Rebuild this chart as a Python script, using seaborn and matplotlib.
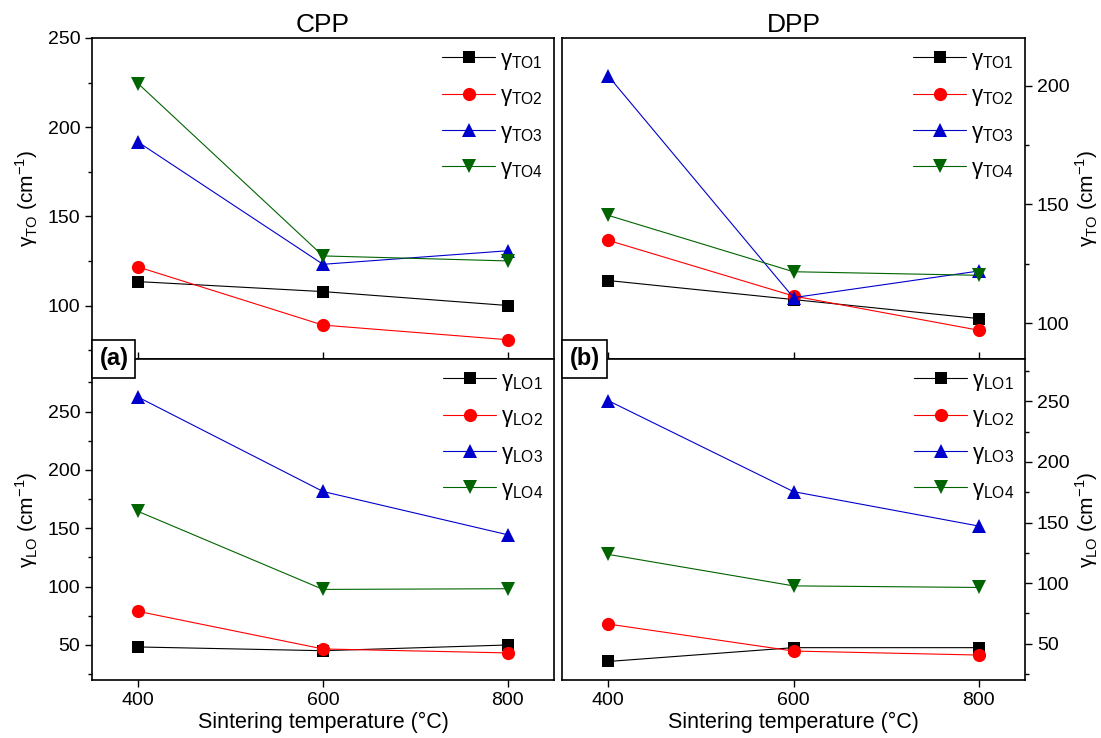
import numpy as np
import pandas as pd
import seaborn as sns
import matplotlib.pyplot as plt

# Data
temps = [400, 600, 800]

cpp_to1 = [113.4, 107.8, 100.0]
cpp_to2 = [121.6, 89.0, 80.8]
cpp_to3 = [191.6, 123.1, 130.7]
cpp_to4 = [224.4, 127.8, 125.0]

dpp_to1 = [118.0, 110.0, 102.0]
dpp_to2 = [134.9, 111.5, 97.1]
dpp_to3 = [204.0, 110.8, 122.0]
dpp_to4 = [145.4, 121.7, 120.2]

cpp_lo1 = [48.3, 45.1, 50.0]
cpp_lo2 = [78.8, 46.6, 43.2]
cpp_lo3 = [262.3, 181.5, 144.4]
cpp_lo4 = [164.4, 97.6, 98.2]

dpp_lo1 = [35.3, 46.7, 46.7]
dpp_lo2 = [66.2, 43.9, 40.6]
dpp_lo3 = [250.6, 175.5, 147.1]
dpp_lo4 = [123.7, 97.7, 96.4]

sns.set_style("ticks", {"axes.edgecolor": "black", "text.color": "black",
                        "xtick.color": "black", "ytick.color": "black",
                        "axes.labelcolor": "black"})
plt.rcParams['font.family'] = ['Liberation Sans', 'DejaVu Sans']
plt.rcParams['mathtext.fontset'] = 'custom'
plt.rcParams['mathtext.rm'] = 'Liberation Sans'

colors = ['black', '#FF0000', '#0000CC', '#006400']
markers = ['s', 'o', '^', 'v']
msizes = [9, 9.5, 10.5, 10.5]

fig = plt.figure(figsize=(11.01, 7.38), dpi=100)
W, H = 1101, 738


def box(x0, x1, y0, y1):
    return [x0 / W, 1 - y1 / H, (x1 - x0) / W, (y1 - y0) / H]


ax_tl = fig.add_axes(box(92, 554, 38, 359))
ax_tr = fig.add_axes(box(562, 1025, 38, 359))
ax_bl = fig.add_axes(box(92, 554, 359, 680))
ax_br = fig.add_axes(box(562, 1025, 359, 680))

panels = [
    (ax_tl, [cpp_to1, cpp_to2, cpp_to3, cpp_to4], 'TO', (70, 250), [100, 150, 200, 250], 'left'),
    (ax_tr, [dpp_to1, dpp_to2, dpp_to3, dpp_to4], 'TO', (85, 220), [100, 150, 200], 'right'),
    (ax_bl, [cpp_lo1, cpp_lo2, cpp_lo3, cpp_lo4], 'LO', (20, 295), [50, 100, 150, 200, 250], 'left'),
    (ax_br, [dpp_lo1, dpp_lo2, dpp_lo3, dpp_lo4], 'LO', (20, 285), [50, 100, 150, 200, 250], 'right'),
]

for ax, series, mode, ylim, yticks, side in panels:
    for i, vals in enumerate(series):
        sns.lineplot(x=temps, y=vals, ax=ax, color=colors[i], marker=markers[i],
                     markersize=msizes[i], markeredgewidth=0, linewidth=0.8,
                     label='γ$_{\\mathregular{' + mode + str(i + 1) + '}}$')
    ax.set_yticks(yticks)
    minor = [t for t in np.arange(yticks[0] - 25, ylim[1], 25) if t >= ylim[0]]
    ax.set_yticks(minor, minor=True)
    ax.set_xticks(temps)
    ax.set_xlim(350, 850)
    ax.set_ylim(*ylim)
    ax.tick_params(axis='both', which='major', labelsize=14, length=5, width=1, direction='out')
    ax.tick_params(axis='y', which='minor', length=3, width=1, direction='out')
    for s in ax.spines.values():
        s.set_linewidth(1.2)
        s.set_visible(True)
    ax.set_ylabel('γ$_{\\mathregular{' + mode + '}}$ (cm$^{\\mathregular{-1}}$)', fontsize=15)
    if side == 'right':
        ax.yaxis.tick_right()
        ax.yaxis.set_label_position('right')
        ax.yaxis.set_label_coords(1.105, 0.5)
    else:
        ax.yaxis.set_label_coords(-0.112, 0.5)
    ax.legend(loc='upper right', frameon=False, fontsize=16, handlelength=2.4,
              labelspacing=0.6, handletextpad=0.2, borderaxespad=0.1,
              bbox_to_anchor=(1.0, 1.0))

for ax in (ax_tl, ax_tr):
    ax.tick_params(axis='x', bottom=True, labelbottom=False, direction='in', length=5)
for ax in (ax_bl, ax_br):
    ax.set_xlabel('Sintering temperature (°C)', fontsize=15.5, labelpad=2)

ax_tl.set_title('CPP', fontsize=19, pad=4)
ax_tr.set_title('DPP', fontsize=19, pad=4)

for ax, lab in ((ax_bl, '(a)'), (ax_br, '(b)')):
    ax.text(0.016, 1.0, lab, transform=ax.transAxes, fontsize=17, fontweight='bold',
            ha='left', va='center', zorder=10,
            bbox=dict(boxstyle='square,pad=0.3', facecolor='white', edgecolor='black', linewidth=1.2))

fig.savefig('out.png', dpi=100)
